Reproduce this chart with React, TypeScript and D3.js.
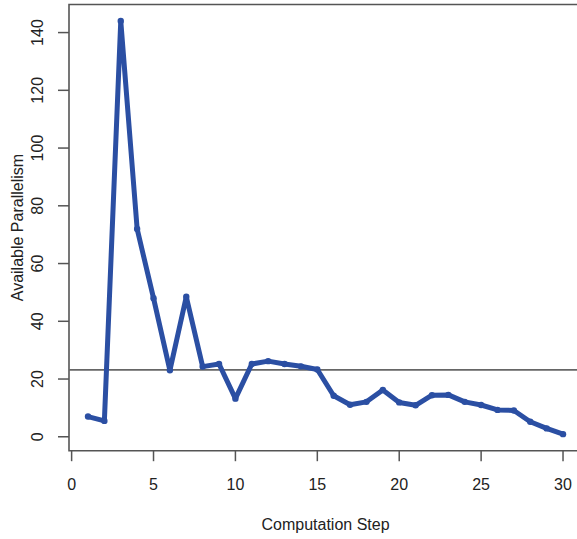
import React from "react";
import * as d3 from "d3";

const WIDTH = 577;
const HEIGHT = 539;
// plot box in R style (right edge falls outside the picture)
const BOX = { left: 69, top: 4.5, bottom: 450.7 };

const steps = d3.range(1, 31);
const parallelism = [
  7, 5.5, 144, 72, 48, 23, 48.5, 24.3, 25.2, 13.2, 25.2, 26.2, 25.2, 24.4, 23.3,
  14.2, 11.1, 12.1, 16.2, 11.9, 10.9, 14.4, 14.5, 12.1, 11, 9.3, 9.1, 5.2, 2.9, 0.9,
];
const meanLine = 23.2;
const xTicks = [0, 5, 10, 15, 20, 25, 30];
const yTicks = [0, 20, 40, 60, 80, 100, 120, 140];

const FONT = "'Liberation Sans', Arial, Helvetica, sans-serif";

const App = () => {
  // R pads the data range by 4% on each side
  const xPad = (steps[steps.length - 1] - steps[0]) * 0.04;
  const xDomain = [steps[0] - xPad, steps[steps.length - 1] + xPad];
  const xSpan = xDomain[1] - xDomain[0];
  const xScale = d3
    .scaleLinear()
    .domain(xDomain)
    .range([BOX.left, BOX.left + xSpan * 16.38]);

  const [yMin, yMax] = d3.extent(parallelism) as [number, number];
  const yPad = (yMax - yMin) * 0.04;
  const yScale = d3
    .scaleLinear()
    .domain([yMin - yPad, yMax + yPad])
    .range([BOX.bottom, BOX.top]);

  const line = d3
    .line<number>()
    .x((_, i) => xScale(steps[i]))
    .y((d) => yScale(d));

  const boxRight = xScale.range()[1];
  const axisColor = "#555";
  const blue = "#2B4FA3";

  return (
    <svg
      width={WIDTH}
      height={HEIGHT}
      style={{ position: "absolute", left: 0, top: 0, background: "#fff" }}
      fontFamily={FONT}
    >
      {/* box */}
      <path
        d={`M${boxRight},${BOX.top}H${BOX.left}V${BOX.bottom}H${boxRight}`}
        fill="none"
        stroke={axisColor}
        strokeWidth={1.6}
      />
      {/* reference line */}
      <line
        x1={BOX.left}
        x2={boxRight}
        y1={yScale(meanLine)}
        y2={yScale(meanLine)}
        stroke="#666"
        strokeWidth={1.8}
      />
      {/* x axis */}
      <g>
        {xTicks.map((t) => (
          <g key={t}>
            <line
              x1={xScale(t)}
              x2={xScale(t)}
              y1={BOX.bottom}
              y2={BOX.bottom + 10.5}
              stroke={axisColor}
              strokeWidth={1.5}
            />
            <text
              x={xScale(t)}
              y={490}
              textAnchor="middle"
              fontSize={16}
              fill="#222"
            >
              {t}
            </text>
          </g>
        ))}
        <text
          x={(BOX.left + boxRight) / 2}
          y={530}
          textAnchor="middle"
          fontSize={16}
          fill="#222"
        >
          Computation Step
        </text>
      </g>
      {/* y axis */}
      <g>
        {yTicks.map((t) => (
          <g key={t}>
            <line
              x1={BOX.left}
              x2={BOX.left - 11}
              y1={yScale(t)}
              y2={yScale(t)}
              stroke={axisColor}
              strokeWidth={1.5}
            />
            <text
              transform={`translate(43.3,${yScale(t)}) rotate(-90)`}
              textAnchor="middle"
              fontSize={16}
              fill="#222"
            >
              {t}
            </text>
          </g>
        ))}
        <text
          transform={`translate(22.5,${(BOX.top + BOX.bottom) / 2}) rotate(-90)`}
          textAnchor="middle"
          fontSize={16}
          fill="#222"
        >
          Available Parallelism
        </text>
      </g>
      {/* series */}
      <path
        d={line(parallelism) ?? ""}
        fill="none"
        stroke={blue}
        strokeWidth={5}
        strokeLinejoin="round"
        strokeLinecap="round"
      />
      {parallelism.map((d, i) => (
        <circle
          key={i}
          cx={xScale(steps[i])}
          cy={yScale(d)}
          r={3.2}
          fill={blue}
        />
      ))}
    </svg>
  );
};

export default App;
